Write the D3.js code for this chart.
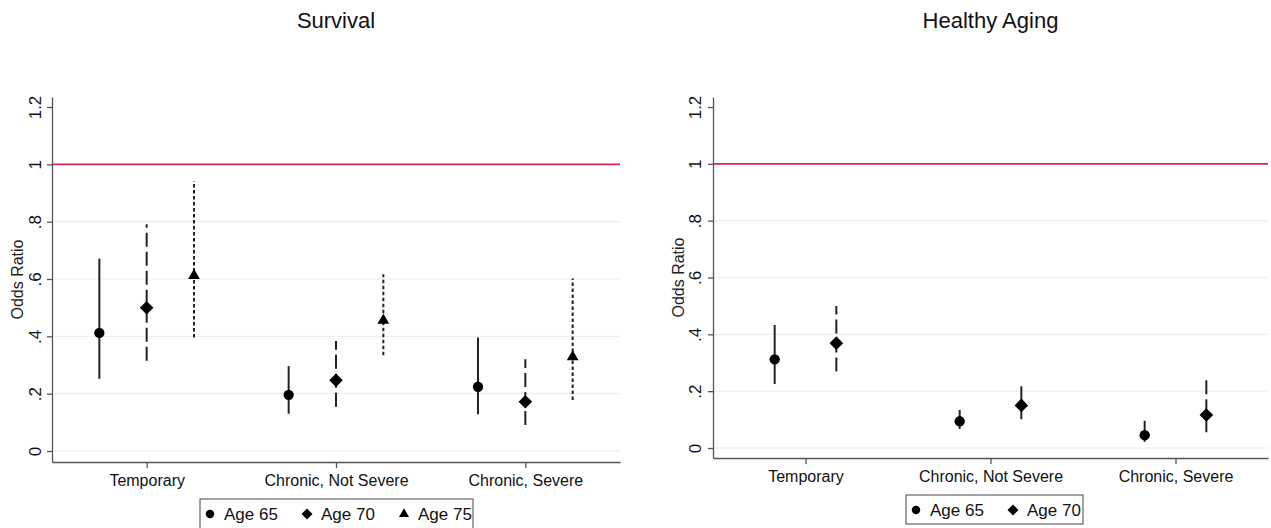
<!DOCTYPE html>
<html>
  <head>
    <meta charset="utf-8">
    <style>
      body { margin: 0; background-color: white; }
      svg { display: block; font-family: "Liberation Sans", Arial, sans-serif; }
    </style>
  </head>
  <body>
    <svg width="1271" height="528"></svg>
    <script src="https://d3js.org/d3.v7.min.js"></script>
    <script>
    // categories and tick labels
    var categories = ["Temporary", "Chronic, Not Severe", "Chronic, Severe"];
    var yTicks = [0, 0.2, 0.4, 0.6, 0.8, 1, 1.2];
    var yTickLabels = ["0", ".2", ".4", ".6", ".8", "1", "1.2"];

    // Survival: estimate, lower and upper bound per age group
    var survivalSeries = ["Age 65", "Age 70", "Age 75"];
    var survivalEst = [[0.412, 0.196, 0.224], [0.500, 0.247, 0.172], [0.612, 0.456, 0.328]];
    var survivalLo  = [[0.252, 0.130, 0.128], [0.315, 0.154, 0.091], [0.396, 0.334, 0.178]];
    var survivalHi  = [[0.671, 0.296, 0.396], [0.791, 0.384, 0.320], [0.942, 0.617, 0.602]];

    // Healthy aging
    var healthySeries = ["Age 65", "Age 70"];
    var healthyEst = [[0.312, 0.094, 0.045], [0.369, 0.150, 0.116]];
    var healthyLo  = [[0.225, 0.067, 0.022], [0.269, 0.101, 0.055]];
    var healthyHi  = [[0.433, 0.134, 0.096], [0.500, 0.225, 0.239]];

    var symbols = [d3.symbolCircle, d3.symbolSquare, d3.symbolTriangle];
    var symSizes = [84, 92, 60];
    var legSizes = [56, 60, 44];
    var symRot = [0, 45, 0];
    var dashes = [null, "14,5", "3.5,2.5"];
    var ink = "#111";

    var svg = d3.select("svg");

    function panel(o) {
      var g = svg.append("g");
      // y scale: ticks 0 and 1.2 placed, axis extends a bit beyond
      var y0 = d3.scaleLinear().domain([0, 1.2]).range([o.yZero, o.yTop12]);
      var y = d3.scaleLinear().domain([y0.invert(o.bottom), y0.invert(o.top)]).range([o.bottom, o.top]);
      var n = categories.length;
      var x = d3.scaleLinear().domain([0.5, n + 0.5]).range([o.left, o.right]);

      // grid
      g.selectAll(".grid").data(yTicks.filter(function(d) { return d < 0.9; }))
        .enter().append("line")
        .attr("x1", o.left).attr("x2", o.right)
        .attr("y1", function(d) { return y(d); }).attr("y2", function(d) { return y(d); })
        .attr("stroke", "#e8f0f2").attr("stroke-width", 1.2);

      // reference line at 1
      g.append("line")
        .attr("x1", o.left).attr("x2", o.right)
        .attr("y1", y(1)).attr("y2", y(1))
        .attr("stroke", "#d42a50").attr("stroke-width", 1.6);

      // y axis
      var ya = g.append("g").attr("transform", "translate(" + o.left + ",0)")
        .call(d3.axisLeft(y).tickValues(yTicks).tickSize(5).tickSizeOuter(0)
          .tickFormat(function(d, i) { return yTickLabels[i]; }));
      ya.select(".domain").attr("stroke", "#555").attr("stroke-width", 1.3);
      ya.selectAll(".tick line").attr("stroke", "#555").attr("stroke-width", 1.3);
      ya.selectAll(".tick text")
        .attr("x", null).attr("dy", null)
        .attr("transform", "translate(" + (o.yLabX - o.left) + ",0) rotate(-90)")
        .attr("text-anchor", "middle").attr("dy", "0.36em")
        .attr("font-size", 17).attr("font-family", "Liberation Sans, Arial").attr("fill", ink);

      g.append("text")
        .attr("transform", "translate(" + o.titleYX + "," + (o.top + o.bottom) / 2 + ") rotate(-90)")
        .attr("text-anchor", "middle").attr("dy", "0.35em")
        .attr("font-size", 16).attr("fill", "#222").text("Odds Ratio");

      // x axis
      var xa = g.append("g").attr("transform", "translate(0," + o.bottom + ")")
        .call(d3.axisBottom(x).tickValues(d3.range(1, n + 1)).tickSize(6).tickSizeOuter(0)
          .tickFormat(function(d) { return categories[d - 1]; }));
      xa.select(".domain").attr("stroke", "#555").attr("stroke-width", 1.3);
      xa.selectAll(".tick line").attr("stroke", "#555").attr("stroke-width", 1.3);
      xa.selectAll(".tick text").attr("y", 13).attr("dy", "0.71em")
        .attr("font-size", 16).attr("font-family", "Liberation Sans, Arial").attr("fill", ink);

      // title
      g.append("text").attr("x", (o.left + o.right) / 2).attr("y", 28)
        .attr("text-anchor", "middle").attr("font-size", 22).attr("fill", ink).text(o.title);

      // series
      o.series.forEach(function(name, s) {
        var off = o.offsets[s];
        var sg = g.append("g");
        sg.selectAll("line.ci").data(o.est[s]).enter().append("line")
          .attr("class", "ci")
          .attr("x1", function(d, i) { return x(i + 1 + off); })
          .attr("x2", function(d, i) { return x(i + 1 + off); })
          .attr("y1", function(d, i) { return y(o.lo[s][i]); })
          .attr("y2", function(d, i) { return y(o.hi[s][i]); })
          .attr("stroke", "#222").attr("stroke-width", 2)
          .attr("stroke-dasharray", dashes[s]);
        sg.selectAll("path").data(o.est[s]).enter().append("path")
          .attr("d", d3.symbol().type(symbols[s]).size(symSizes[s]))
          .attr("transform", function(d, i) {
            return "translate(" + x(i + 1 + off) + "," + y(d) + ") rotate(" + symRot[s] + ")";
          })
          .attr("fill", "#000");
      });

      // legend
      var lg = g.append("g").attr("transform", "translate(" + o.leg[0] + "," + o.leg[1] + ")");
      lg.append("rect").attr("x", 0).attr("y", 0).attr("width", o.leg[2]).attr("height", o.leg[3])
        .attr("fill", "white").attr("stroke", "#444").attr("stroke-width", 1);
      o.series.forEach(function(name, s) {
        var lx = 10 + s * 97;
        lg.append("path")
          .attr("d", d3.symbol().type(symbols[s]).size(legSizes[s]))
          .attr("transform", "translate(" + lx + "," + o.legMid + ") rotate(" + symRot[s] + ")")
          .attr("fill", "#000");
        lg.append("text").attr("x", lx + 14).attr("y", o.legMid).attr("dy", "0.35em")
          .attr("font-size", 17).attr("fill", ink).text(name);
      });
    }

    panel({
      title: "Survival", left: 52, right: 620, top: 97, bottom: 462,
      yZero: 451, yTop12: 107, yLabX: 35, titleYX: 17,
      series: survivalSeries, est: survivalEst, lo: survivalLo, hi: survivalHi,
      offsets: [-0.25, 0, 0.25],
      leg: [200, 499, 273, 34], legMid: 15
    });

    panel({
      title: "Healthy Aging", left: 713, right: 1268, top: 97, bottom: 458,
      yZero: 448, yTop12: 107, yLabX: 695, titleYX: 678,
      series: healthySeries, est: healthyEst, lo: healthyLo, hi: healthyHi,
      offsets: [-1 / 6, 1 / 6],
      leg: [906, 495, 177, 29], legMid: 15
    });
    </script>
  </body>
</html>
